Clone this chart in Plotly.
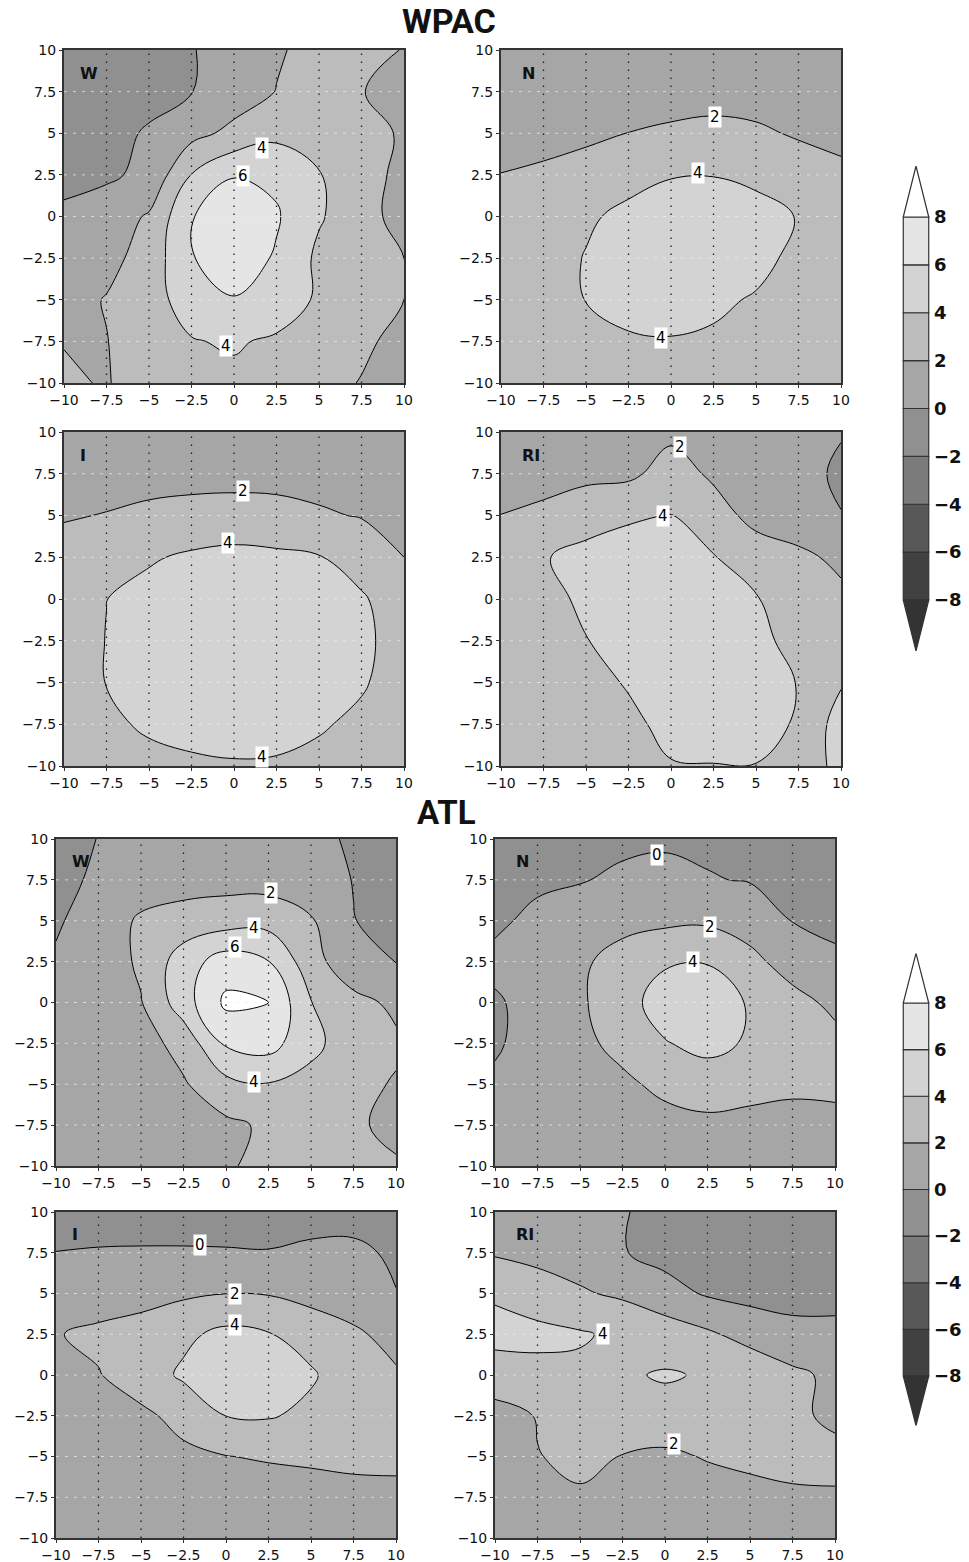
import plotly.graph_objects as go

# ---------------- data ----------------
x_grid = [-10, -7.5, -5, -2.5, 0, 2.5, 5, 7.5, 10]
y_grid = [10, 7.5, 5, 2.5, 0, -2.5, -5, -7.5, -10]     # rows below are listed top (y=10) to bottom (y=-10)
tick_vals = [-10, -7.5, -5, -2.5, 0, 2.5, 5, 7.5, 10]
tick_text = ["\u221210", "\u22127.5", "\u22125", "\u22122.5", "0", "2.5", "5", "7.5", "10"]
levels = [-8, -6, -4, -2, 0, 2, 4, 6, 8]
level_text = ["\u22128", "\u22126", "\u22124", "\u22122", "0", "2", "4", "6", "8"]
band_colors = ["#333333", "#414141", "#585858", "#7b7b7b", "#909090",
               "#a6a6a6", "#bcbcbc", "#d3d3d3", "#e5e5e5", "#ffffff"]

wpac_w = [
    [-1.0, -1.0, -0.8, -0.1, 0.8, 1.8, 2.6, 2.4, 1.95],
    [-1.2, -1.0, -0.6, -0.05, 1.0, 2.05, 2.7, 2.05, 1.5],
    [-1.0, -0.6, 0.2, 1.4, 2.5, 3.5, 3.2, 2.6, 1.8],
    [-0.6, -0.3, 0.45, 4.05, 5.9, 5.6, 4.1, 2.9, 1.4],
    [0.4, 1.0, 2.2, 5.9, 7.2, 6.2, 4.2, 2.8, 1.2],
    [0.8, 1.4, 2.8, 5.9, 7.0, 5.8, 3.6, 2.6, 2.0],
    [1.3, 2.1, 3.3, 4.8, 5.9, 5.2, 3.7, 2.8, 2.0],
    [1.95, 1.95, 3.0, 3.9, 4.2, 3.7, 3.1, 2.4, 1.35],
    [2.2, 1.9, 2.8, 3.5, 3.6, 3.3, 2.7, 1.9, 1.3],
]
wpac_n = [
    [1.2, 1.1, 1.0, 0.9, 0.9, 1.0, 0.9, 0.8, 0.8],
    [1.3, 1.2, 1.2, 1.1, 1.2, 1.3, 1.2, 1.1, 1.0],
    [1.6, 1.6, 1.7, 2.02, 2.3, 2.5, 2.3, 1.8, 1.5],
    [2.02, 2.2, 2.6, 3.3, 3.9, 3.95, 3.5, 3.0, 2.4],
    [2.3, 2.9, 3.7, 4.5, 4.9, 5.0, 4.8, 3.9, 3.0],
    [2.4, 3.1, 4.1, 4.8, 5.1, 5.1, 4.7, 3.4, 3.0],
    [2.4, 3.0, 4.05, 4.6, 4.7, 4.4, 3.8, 3.0, 2.7],
    [2.3, 2.8, 3.3, 3.8, 3.9, 3.7, 3.3, 2.8, 2.5],
    [2.2, 2.6, 3.0, 3.3, 3.4, 3.3, 3.0, 2.6, 2.3],
]
wpac_i = [
    [1.0, 1.0, 1.1, 1.2, 1.2, 1.1, 1.0, 0.9, 0.9],
    [1.3, 1.5, 1.5, 1.5, 1.5, 1.5, 1.4, 1.3, 1.2],
    [1.9, 2.05, 2.3, 2.5, 2.6, 2.5, 2.2, 1.9, 1.6],
    [2.5, 3.0, 3.8, 4.3, 4.6, 4.4, 4.1, 3.2, 2.0],
    [2.8, 3.98, 4.6, 4.9, 5.0, 5.0, 4.8, 4.2, 3.0],
    [2.9, 4.05, 4.7, 5.0, 5.1, 5.0, 4.9, 4.4, 3.2],
    [2.9, 4.05, 4.6, 4.9, 5.0, 4.9, 4.7, 4.2, 3.1],
    [2.7, 3.6, 4.3, 4.6, 4.7, 4.6, 4.2, 3.6, 2.9],
    [2.5, 3.0, 3.4, 3.7, 3.85, 3.8, 3.5, 3.1, 2.7],
]
wpac_ri = [
    [1.0, 1.0, 1.1, 1.3, 1.6, 1.3, 0.8, 0.4, 0.1],
    [1.3, 1.5, 1.6, 1.6, 2.8, 1.7, 1.2, 0.6, -0.3],
    [2.02, 2.3, 3.0, 3.8, 4.05, 2.8, 1.4, 0.9, 0.05],
    [2.6, 3.85, 4.7, 4.7, 4.6, 4.1, 3.0, 2.4, 1.6],
    [2.8, 3.5, 4.3, 4.8, 4.9, 4.7, 4.1, 3.3, 2.4],
    [2.9, 3.3, 3.95, 4.6, 4.9, 4.8, 4.4, 3.5, 2.7],
    [2.8, 3.0, 3.4, 4.15, 4.7, 4.8, 4.6, 3.95, 3.98],
    [2.7, 2.9, 3.1, 3.6, 4.5, 4.7, 4.7, 3.8, 4.1],
    [2.5, 2.7, 2.9, 3.2, 3.9, 3.95, 3.95, 3.6, 4.2],
]
atl_w = [
    [-0.8, 0.05, 0.6, 0.8, 0.7, 0.5, 0.1, -0.05, -0.6],
    [-0.7, 0.4, 0.9, 1.2, 1.3, 1.2, 0.8, -0.05, -0.6],
    [-0.2, 0.8, 2.3, 2.8, 3.1, 3.3, 2.2, 0.05, -0.6],
    [0.2, 0.9, 2.3, 5.0, 7.0, 6.05, 2.8, 0.6, -0.05],
    [0.8, 1.2, 1.9, 5.1, 8.4, 8.0, 4.05, 2.6, 1.6],
    [0.8, 1.0, 1.2, 2.7, 6.3, 6.8, 4.5, 3.0, 2.3],
    [0.6, 0.8, 1.1, 1.8, 3.4, 3.9, 3.4, 2.5, 1.85],
    [0.5, 0.6, 0.8, 1.1, 1.6, 2.3, 2.8, 2.3, 1.5],
    [0.4, 0.5, 0.7, 1.1, 1.8, 2.5, 2.7, 2.5, 2.2],
]
atl_n = [
    [-0.7, -0.6, -0.4, -0.35, -0.3, -0.3, -0.5, -0.7, -0.8],
    [-0.4, -0.3, -0.1, 0.3, 0.6, 0.1, -0.1, -0.4, -0.6],
    [-0.3, 0.4, 0.9, 1.3, 1.6, 1.7, 1.2, -0.05, -0.5],
    [0.4, 0.9, 1.6, 2.9, 3.8, 3.9, 2.5, 1.2, 0.4],
    [-0.2, 0.6, 1.7, 3.3, 4.8, 5.2, 3.8, 2.6, 1.6],
    [-0.15, 0.5, 1.5, 2.6, 3.9, 4.5, 3.8, 3.0, 2.5],
    [0.2, 0.4, 0.9, 1.6, 2.5, 3.1, 2.9, 2.4, 2.4],
    [0.2, 0.4, 0.7, 1.0, 1.3, 1.5, 1.2, 1.3, 1.5],
    [0.2, 0.3, 0.5, 0.7, 0.9, 1.0, 1.0, 1.0, 1.0],
]
atl_i = [
    [-0.6, -0.5, -0.5, -0.5, -0.5, -0.5, -0.6, -0.7, -0.6],
    [0.02, 0.08, 0.1, 0.1, 0.08, 0.05, 0.3, 0.4, -0.3],
    [0.7, 1.0, 1.3, 1.7, 1.98, 1.9, 1.3, 1.0, 0.05],
    [1.9, 2.4, 2.8, 3.6, 4.5, 4.1, 3.3, 2.3, 1.4],
    [1.2, 1.9, 3.0, 4.3, 4.8, 4.9, 4.2, 3.0, 2.2],
    [1.0, 1.4, 1.6, 2.6, 4.02, 4.15, 3.6, 3.0, 2.7],
    [0.8, 1.0, 1.2, 1.6, 1.95, 2.2, 2.4, 2.5, 2.5],
    [0.6, 0.7, 0.8, 0.85, 0.9, 0.9, 1.0, 1.35, 1.45],
    [0.5, 0.5, 0.6, 0.6, 0.7, 0.7, 0.8, 0.9, 1.0],
]
atl_ri = [
    [1.2, 1.0, 0.7, 0.15, -0.7, -0.8, -0.8, -0.7, -0.6],
    [1.8, 1.4, 1.2, 0.1, -0.6, -0.8, -0.9, -0.8, -0.7],
    [3.8, 3.0, 2.2, 1.7, 0.7, -0.2, -0.6, -0.7, -0.6],
    [4.5, 4.5, 4.2, 3.6, 3.1, 2.3, 1.3, 0.6, 0.5],
    [3.2, 3.4, 3.6, 3.8, 4.15, 3.85, 3.4, 2.4, 1.6],
    [1.2, 2.1, 2.9, 3.2, 3.4, 3.3, 3.0, 2.3, 1.7],
    [1.0, 1.95, 2.3, 1.95, 1.6, 2.15, 2.3, 2.5, 2.4],
    [0.8, 1.5, 1.85, 1.5, 1.2, 1.0, 1.6, 1.75, 1.85],
    [0.6, 0.9, 1.1, 1.0, 0.9, 0.9, 1.0, 1.2, 1.3],
]

# contour label texts and positions (x, y, text)
labels_wpac_w = [(1.63, 4.14, "4"), (0.54, 2.44, "6"), (-0.5, -7.8, "4")]
labels_wpac_n = [(2.6, 6.0, "2"), (1.57, 2.64, "4"), (-0.57, -7.3, "4")]
labels_wpac_i = [(0.53, 6.47, "2"), (-0.35, 3.35, "4"), (1.65, -9.46, "4")]
labels_wpac_ri = [(0.51, 9.1, "2"), (-0.5, 5.0, "4")]
labels_atl_w = [(2.67, 6.7, "2"), (1.63, 4.55, "4"), (0.55, 3.39, "6"), (1.63, -4.88, "4")]
labels_atl_n = [(-0.47, 9.04, "0"), (2.65, 4.61, "2"), (1.67, 2.47, "4")]
labels_atl_i = [(-1.55, 8.0, "0"), (0.55, 5.0, "2"), (0.55, 3.06, "4")]
labels_atl_ri = [(-3.67, 2.53, "4"), (0.55, -4.24, "2")]

# ---------------- layout geometry (pixels) ----------------
W, H = 969, 1562
panels = [
    # letter, z, labels, (left, right, top, bottom) px, letter x
    ("W", wpac_w, labels_wpac_w, (64, 404, 50, 383), -9.2),
    ("N", wpac_n, labels_wpac_n, (501, 841, 50, 383), -8.9),
    ("I", wpac_i, labels_wpac_i, (64, 404, 432, 766), -9.2),
    ("RI", wpac_ri, labels_wpac_ri, (501, 841, 432, 766), -8.9),
    ("W", atl_w, labels_atl_w, (56, 396, 839, 1166), -9.2),
    ("N", atl_n, labels_atl_n, (495, 835, 839, 1166), -8.9),
    ("I", atl_i, labels_atl_i, (56, 396, 1212, 1538), -9.2),
    ("RI", atl_ri, labels_atl_ri, (495, 835, 1212, 1538), -8.9),
]
ext = 2.13  # triangle extension of colorbar in value units
colorbars = [(902, 930, 217, 600), (902, 930, 1003, 1376)]  # left,right, y of 8, y of -8


def xd(px):
    return px / W


def yd(px):
    return 1 - px / H


fig = go.Figure()
layout = dict(
    width=W, height=H, autosize=False,
    margin=dict(l=0, r=0, t=0, b=0, pad=0, autoexpand=False),
    paper_bgcolor="white", plot_bgcolor="white", showlegend=False, hovermode=False,
)
shapes = []
annotations = []

n = len(levels) + 1
colorscale = [[k / (n - 1), band_colors[k]] for k in range(n)]
tick_font = dict(family="DejaVu Sans", size=14, color="#111")

for i, (letter, z, labs, (l, r, t, b), lx) in enumerate(panels, start=1):
    xa = "x" if i == 1 else f"x{i}"
    ya = "y" if i == 1 else f"y{i}"
    z_up = z[::-1]
    y_up = y_grid[::-1]
    fig.add_trace(go.Contour(
        x=x_grid, y=y_up, z=z_up, xaxis=xa, yaxis=ya,
        autocontour=False,
        contours=dict(start=levels[0], end=levels[-1], size=levels[1] - levels[0],
                      coloring="fill", showlabels=False),
        colorscale=colorscale, showscale=False,
        line=dict(color="black", width=1, smoothing=1.1),
        hoverinfo="skip",
    ))
    axcommon = dict(
        range=[tick_vals[0], tick_vals[-1]], tickmode="array", tickvals=tick_vals,
        ticktext=tick_text, showgrid=False, zeroline=False, showline=True,
        linecolor="#333", linewidth=2, mirror=True, ticks="outside", ticklen=3,
        tickwidth=1, tickcolor="#333", tickfont=tick_font, layer="above traces",
        automargin=False, fixedrange=True,
    )
    layout["xaxis" if i == 1 else f"xaxis{i}"] = dict(
        axcommon, domain=[xd(l), xd(r)], anchor=ya)
    layout["yaxis" if i == 1 else f"yaxis{i}"] = dict(
        axcommon, domain=[yd(b), yd(t)], anchor=xa)
    # dotted vertical lines and faint horizontal lines (at tick positions)
    for v in tick_vals[1:-1]:
        shapes.append(dict(type="line", xref=xa, yref=f"{ya} domain", x0=v, x1=v, y0=0, y1=1,
                           line=dict(color="#1e1e1e", width=1.3, dash="1.5px,6.5px"), layer="above"))
        shapes.append(dict(type="line", xref=f"{xa} domain", yref=ya, x0=0, x1=1, y0=v, y1=v,
                           line=dict(color="rgba(235,235,235,0.75)", width=1, dash="3px,6px"),
                           layer="above"))
    for (lxv, lyv, txt) in labs:
        annotations.append(dict(x=lxv, y=lyv, xref=xa, yref=ya, text=txt, showarrow=False,
                                bgcolor="white", borderpad=1,
                                font=dict(family="DejaVu Sans", size=15, color="black")))
    annotations.append(dict(x=lx, y=8.6, xref=xa, yref=ya, text=f"<b>{letter}</b>",
                            showarrow=False, xanchor="left", yanchor="middle",
                            font=dict(family="DejaVu Sans", size=16, color="#111")))

# ---------------- colorbars ----------------
for j, (l, r, ytop, ybot) in enumerate(colorbars):
    k = 9 + j
    xa, ya = f"x{k}", f"y{k}"
    ppu = (ybot - ytop) / (levels[-1] - levels[0])
    dom_top = ytop - ext * ppu
    dom_bot = ybot + ext * ppu
    fig.add_trace(go.Bar(
        x=[0.5] * (len(levels) - 1), y=[levels[m + 1] - levels[m] for m in range(len(levels) - 1)],
        base=levels[:-1], width=1, xaxis=xa, yaxis=ya,
        marker=dict(color=band_colors[1:-1], line=dict(color="#333", width=1.2)),
        hoverinfo="skip",
    ))
    fig.add_trace(go.Scatter(
        x=[0, 1, 0.5, 0], y=[levels[-1], levels[-1], levels[-1] + ext, levels[-1]],
        xaxis=xa, yaxis=ya, mode="lines", fill="toself", fillcolor=band_colors[-1],
        line=dict(color="#333", width=1.2), hoverinfo="skip"))
    fig.add_trace(go.Scatter(
        x=[0, 1, 0.5, 0], y=[levels[0], levels[0], levels[0] - ext, levels[0]],
        xaxis=xa, yaxis=ya, mode="lines", fill="toself", fillcolor=band_colors[0],
        line=dict(color="#333", width=1.2), hoverinfo="skip"))
    layout[f"xaxis{k}"] = dict(domain=[xd(l), xd(r)], range=[-0.05, 1.05], visible=False,
                               anchor=ya, fixedrange=True, automargin=False)
    layout[f"yaxis{k}"] = dict(domain=[yd(dom_bot), yd(dom_top)],
                               range=[levels[0] - ext, levels[-1] + ext],
                               anchor=xa, side="right", tickmode="array", tickvals=levels,
                               ticktext=[f"<b>{t}</b>" for t in level_text], ticks="",
                               showgrid=False, zeroline=False, showline=False,
                               ticklabelstandoff=3, automargin=False, fixedrange=True,
                               tickfont=dict(family="DejaVu Sans", size=18, color="#111"))

# ---------------- titles ----------------
annotations.append(dict(x=xd(449), y=yd(21), xref="paper", yref="paper", text="<b>WPAC</b>",
                        showarrow=False, xanchor="center", yanchor="middle",
                        font=dict(family="Roboto", size=34, color="#111")))
annotations.append(dict(x=xd(446), y=yd(812), xref="paper", yref="paper", text="<b>ATL</b>",
                        showarrow=False, xanchor="center", yanchor="middle",
                        font=dict(family="Roboto", size=33, color="#111")))

layout["shapes"] = shapes
layout["annotations"] = annotations
fig.update_layout(**layout)
fig.write_html("out.html")
